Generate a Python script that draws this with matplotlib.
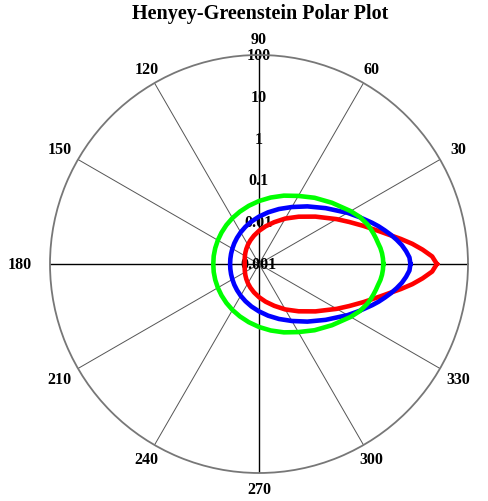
import numpy as np
import matplotlib.pyplot as plt

# ── Data (phase function vs scattering angle) ──
angle_deg = [0, 2.5, 5, 7.5, 10, 12.5, 15, 17.5, 20, 25, 30, 40, 50, 60,
             70, 80, 90, 100, 110, 120, 130, 140, 150, 160, 170, 180]

# red curve (most forward peaked)
red_vals = [18.0, 14.0, 8.5, 5.0, 2.8, 1.6, 1.0, 0.66, 0.46, 0.24, 0.14,
            0.058, 0.030, 0.018, 0.0116, 0.00825, 0.00621, 0.00489,
            0.00400, 0.00339, 0.00296, 0.00266, 0.00245, 0.00231,
            0.00223, 0.00220]
# blue curve
blue_vals = [4.2, 4.0, 3.4, 2.8, 2.2, 1.7, 1.3, 1.0, 0.76, 0.45, 0.28,
             0.12, 0.063, 0.0375, 0.0251, 0.0180, 0.0136, 0.0108, 0.00886,
             0.00752, 0.00657, 0.00591, 0.00544, 0.00514, 0.00497, 0.00491]
# green curve
green_vals = [0.94, 0.93, 0.90, 0.85, 0.78, 0.73, 0.68, 0.63, 0.58, 0.46,
              0.34, 0.19, 0.117, 0.076, 0.0550, 0.0412, 0.0321, 0.0259,
              0.0216, 0.0186, 0.0164, 0.0148, 0.0137, 0.0130, 0.0126,
              0.0124]

r_ticks = [0.001, 0.01, 0.1, 1, 10, 100]
r_tick_labels = ["0.001", "0.01", "0.1", "1", "10", "100"]
theta_ticks = list(range(0, 360, 30))


def full_circle(vals):
    # curves are symmetric about the 0-180 axis
    th = np.array(angle_deg, dtype=float)
    v = np.array(vals, dtype=float)
    th_full = np.concatenate([th, 360 - th[::-1][1:]])
    v_full = np.concatenate([v, v[::-1][1:]])
    return np.deg2rad(th_full), v_full


# ── Figure ────────────────────────────────────────────────
W, H = 489, 502
fig = plt.figure(figsize=(W / 100, H / 100), dpi=100)
R = 209
cx, cy = 259, 265
ax = fig.add_axes([(cx - R) / W, (H - cy - R) / H, 2 * R / W, 2 * R / H],
                  projection="polar")

ax.set_rscale("log")
ax.set_rlim(0.001, 100)
ax.set_yticks(r_ticks)
ax.set_yticklabels([])
ax.yaxis.grid(False)

ax.set_xticks(np.deg2rad(theta_ticks))
ax.set_xticklabels([])
ax.tick_params(axis="x", length=0)
for i, gl in enumerate(ax.xaxis.get_gridlines()):
    if i % 3 == 0:
        gl.set_color("black")
        gl.set_linewidth(1.0)
    else:
        gl.set_color("#555555")
        gl.set_linewidth(0.7)
    gl.set_linestyle("-")
    gl.set_alpha(1)

ax.spines["polar"].set_color("#777777")
ax.spines["polar"].set_linewidth(1.3)

lab_font = dict(family="Liberation Serif", weight="bold", size=11.5)

# radial labels along the 90 deg spoke
for rv, lab in zip(r_ticks, r_tick_labels):
    ax.text(np.pi / 2, rv, lab, ha="center", va="center", zorder=2,
            **lab_font)

# angle labels outside the circle
for t in theta_ticks:
    lab = str(t)
    rp = 225
    if t == 180:
        rp = 239
    elif t == 0:
        rp = 232
    elif t in (30, 330, 150, 210):
        rp = 230
    a = np.deg2rad(t)
    ax.text(0.5 + rp * np.cos(a) / (2 * R), 0.5 + rp * np.sin(a) / (2 * R),
            lab, transform=ax.transAxes, ha="center", va="center",
            clip_on=False, **lab_font)

# curves
for vals, col in [(red_vals, "#ff0000"), (blue_vals, "#0000ff"),
                  (green_vals, "#00ff00")]:
    th, v = full_circle(vals)
    ax.plot(th, v, color=col, linewidth=3.3, zorder=5, solid_joinstyle="round")

fig.text(260 / W, 1 - 14 / H, "Henyey-Greenstein Polar Plot",
         ha="center", va="center", family="Liberation Serif",
         weight="bold", size=14.5)

fig.savefig("out.png", dpi=100)
